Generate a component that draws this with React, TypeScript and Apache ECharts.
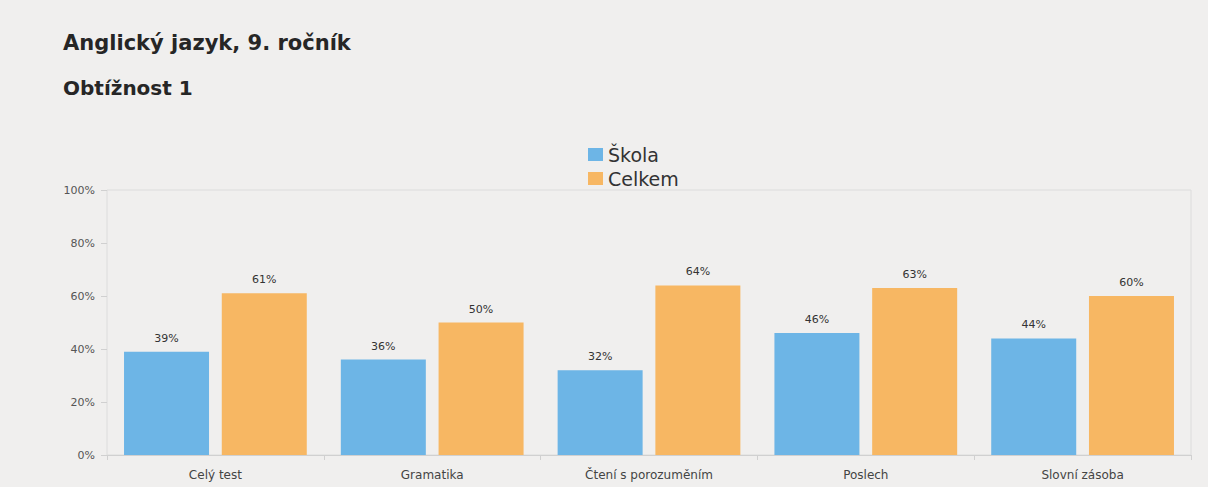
import React, { useEffect, useRef } from "react";
import * as echarts from "echarts";

const categories = ["Celý test", "Gramatika", "Čtení s porozuměním", "Poslech", "Slovní zásoba"];
const skola = [39, 36, 32, 46, 44];
const celkem = [61, 50, 64, 63, 60];
const seriesNames = ["Škola", "Celkem"];
const titleText = "Anglický jazyk, 9. ročník";
const subtitleText = "Obtížnost 1";

const FONT = "'DejaVu Sans', Verdana, sans-serif";

export default function App() {
  const ref = useRef<HTMLDivElement>(null);
  useEffect(() => {
    if (!ref.current) return;
    const chart = echarts.init(ref.current, null, { renderer: "svg" });
    const labelStyle = {
      show: true,
      position: "top",
      distance: 8,
      formatter: "{c}%",
      color: "#333",
      fontSize: 11,
      fontFamily: FONT,
    };
    chart.setOption({
      animation: false,
      backgroundColor: "#f0efee",
      graphic: [
        {
          type: "text",
          left: 63,
          top: 32,
          style: { text: titleText, fill: "#262626", font: `bold 21px ${FONT}` },
        },
        {
          type: "text",
          left: 63,
          top: 78,
          style: { text: subtitleText, fill: "#262626", font: `bold 20px ${FONT}` },
        },
      ],
      legend: {
        orient: "vertical",
        left: 583,
        top: 140,
        itemWidth: 15,
        itemHeight: 13,
        itemGap: 5,
        data: seriesNames,
        textStyle: { fontSize: 19, color: "#333", fontFamily: FONT },
        icon: "rect",
      },
      grid: {
        left: 107,
        right: 17,
        top: 190,
        bottom: 32,
        show: true,
        borderColor: "#dcdcdc",
        borderWidth: 1,
        backgroundColor: "transparent",
      },
      xAxis: {
        type: "category",
        data: categories,
        axisLine: { lineStyle: { color: "#d0d0d0" } },
        axisTick: { show: true, length: 5, lineStyle: { color: "#d0d0d0" } },
        axisLabel: { color: "#444", fontSize: 12, fontFamily: FONT, margin: 14 },
      },
      yAxis: {
        type: "value",
        min: 0,
        max: 100,
        interval: 20,
        axisLine: { show: false },
        axisTick: { show: true, length: 6, lineStyle: { color: "#d0d0d0" } },
        splitLine: { show: false },
        axisLabel: {
          formatter: "{value}%",
          color: "#555",
          fontSize: 11,
          fontFamily: FONT,
          margin: 12,
        },
      },
      series: [
        {
          name: seriesNames[0],
          type: "bar",
          data: skola,
          barWidth: 85,
          barGap: "15%",
          itemStyle: { color: "#6db5e6" },
          label: labelStyle,
        },
        {
          name: seriesNames[1],
          type: "bar",
          data: celkem,
          barWidth: 85,
          barGap: "15%",
          itemStyle: { color: "#f7b763" },
          label: labelStyle,
        },
      ],
    });
    return () => chart.dispose();
  }, []);
  return (
    <div
      ref={ref}
      style={{ position: "fixed", left: 0, top: 0, width: 1208, height: 487 }}
    />
  );
}
